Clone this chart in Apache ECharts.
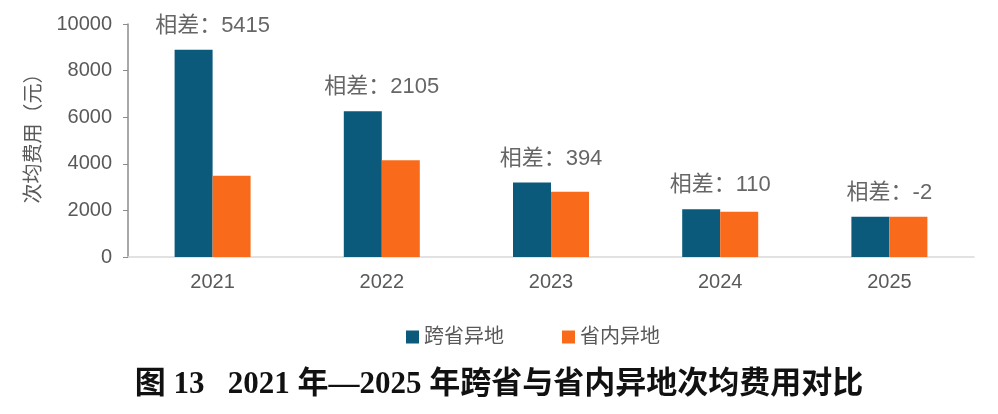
<!DOCTYPE html>
<html><head><meta charset="utf-8">
<script src="https://cdn.jsdelivr.net/npm/echarts@6/dist/echarts.min.js"></script>
<style>html,body{margin:0;padding:0;background:#fff}#c{width:998px;height:414px}</style>
</head><body><div id="c"></div>
<script>
const categories = ['2021', '2022', '2023', '2024', '2025'];
const crossProvince = [8900, 6260, 3195, 2050, 1728];
const inProvince = [3485, 4155, 2801, 1940, 1730];
const diffs = [5415, 2105, 394, 110, -2];
const yTicks = [0, 2000, 4000, 6000, 8000, 10000];
const seriesNames = ['跨省异地', '省内异地'];
const yAxisName = '次均费用（元）';
const chartTitle = '图 13   2021 年—2025 年跨省与省内异地次均费用对比';

const chart = echarts.init(document.getElementById('c'));
const font = '"Liberation Sans", "Noto Sans CJK SC", sans-serif';
chart.setOption({
  animation: false,
  textStyle: { fontFamily: font },
  title: {
    text: chartTitle, left: 'center', top: 364,
    textStyle: { fontFamily: '"Liberation Serif", "Noto Sans CJK SC", serif', fontWeight: 'bold', fontSize: 31, color: '#111' }
  },
  legend: {
    data: seriesNames, top: 322, left: 401, itemGap: 58,
    icon: 'rect', itemWidth: 13, itemHeight: 13,
    textStyle: { fontSize: 20, color: '#595959', fontFamily: font }
  },
  grid: { left: 128, right: 24, top: 24, bottom: 157 },
  xAxis: {
    type: 'category', data: categories,
    axisLine: { lineStyle: { color: '#d9d9d9', width: 1.5 } },
    axisTick: { show: false },
    axisLabel: { fontSize: 20, color: '#595959', margin: 15, fontFamily: font }
  },
  yAxis: {
    type: 'value', min: yTicks[0], max: yTicks[yTicks.length - 1], interval: 2000,
    name: yAxisName, nameLocation: 'middle', nameGap: 84, nameRotate: 90,
    nameTextStyle: { fontSize: 20, color: '#595959', fontFamily: font, padding: [0, 0, 0, 14] },
    axisLine: { show: true, lineStyle: { color: '#8c8c8c', width: 1.5 } },
    axisTick: { show: true, length: 5, lineStyle: { color: '#8c8c8c' } },
    splitLine: { show: false },
    axisLabel: { fontSize: 20, color: '#595959', margin: 16, fontFamily: font, formatter: v => String(v) }
  },
  series: [
    { name: seriesNames[0], type: 'bar', data: crossProvince, barWidth: 38, barGap: '0%', itemStyle: { color: '#0b5a7c' } },
    { name: seriesNames[1], type: 'bar', data: inProvince, barWidth: 38, itemStyle: { color: '#f96b1b' } },
    {
      name: 'diff', type: 'scatter', data: crossProvince, symbolSize: 0, silent: true,
      label: {
        show: true, position: 'top', distance: 13,
        formatter: p => '相差：' + diffs[p.dataIndex],
        fontSize: 22, color: '#404040', fontFamily: font
      }
    }
  ]
});
</script></body></html>
